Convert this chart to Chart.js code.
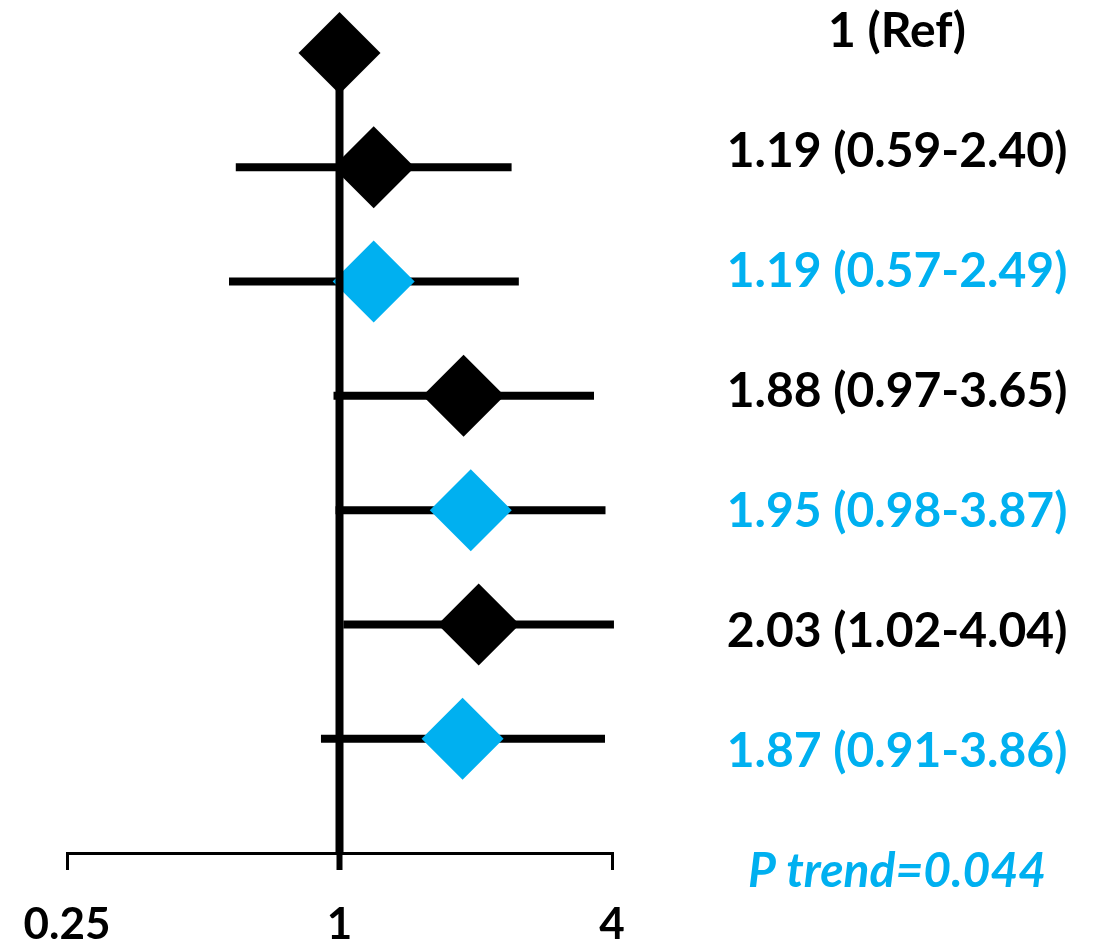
<!DOCTYPE html>
<html lang="en">
<head>
    <meta charset="UTF-8">
    <title>Forest plot</title>
    <script src="https://cdn.jsdelivr.net/npm/chart.js"></script>
    <style>
        body { margin: 0; background: #fff; }
        #wrap { width: 1097px; height: 943px; }
    </style>
</head>
<body>
    <div id="wrap"><canvas id="myChart"></canvas></div>
<script>
    // odds ratios and 95% CI per row (row 0 = reference)
    const estimates = [1, 1.19, 1.19, 1.88, 1.95, 2.03, 1.87];
    const lower = [null, 0.59, 0.57, 0.97, 0.98, 1.02, 0.91];
    const upper = [null, 2.40, 2.49, 3.65, 3.87, 4.04, 3.86];
    const labels = ['1 (Ref)', '1.19 (0.59-2.40)', '1.19 (0.57-2.49)', '1.88 (0.97-3.65)',
                    '1.95 (0.98-3.87)', '2.03 (1.02-4.04)', '1.87 (0.91-3.86)'];
    const trendLabel = 'P trend=0.044';
    const xTicks = [0.25, 1, 4];

    const BLACK = '#000000';
    const BLUE = '#00B0F0';
    const rowColors = [BLACK, BLACK, BLUE, BLACK, BLUE, BLACK, BLUE];

    // one line per confidence interval
    const ciSets = [];
    estimates.forEach((e, i) => {
        if (lower[i] == null) return;
        ciSets.push({
            type: 'line',
            data: [{ x: lower[i], y: i }, { x: upper[i], y: i }],
            borderColor: BLACK,
            borderWidth: 8,
            borderCapStyle: 'butt',
            pointRadius: 0,
            clip: false,
            order: 2
        });
    });

    const refLine = {
        id: 'refLine',
        afterDatasetsDraw(chart) {
            const { ctx, scales: { x, y }, chartArea } = chart;
            const px = x.getPixelForValue(1);
            ctx.save();
            ctx.strokeStyle = BLACK;
            ctx.lineWidth = 8;
            ctx.beginPath();
            ctx.moveTo(px, y.getPixelForValue(0));
            ctx.lineTo(px, chartArea.bottom);
            ctx.stroke();
            ctx.lineWidth = 6;
            ctx.beginPath();
            ctx.moveTo(px, chartArea.bottom);
            ctx.lineTo(px, chartArea.bottom + 17);
            ctx.stroke();
            ctx.restore();
        }
    };

    const rightText = {
        id: 'rightText',
        afterDraw(chart) {
            const ctx = chart.ctx;
            ctx.save();
            ctx.textAlign = 'center';
            ctx.textBaseline = 'alphabetic';
            ctx.font = 'bold 48px Lato';
            labels.forEach((t, i) => {
                ctx.fillStyle = rowColors[i];
                ctx.fillText(t, 897, 47 + i * 120);
            });
            ctx.font = 'italic bold 48px Lato';
            ctx.fillStyle = BLUE;
            ctx.fillText(trendLabel, 897, 47 + labels.length * 120);
            ctx.restore();
        }
    };

    new Chart(document.getElementById('myChart'), {
        type: 'scatter',
        data: {
            datasets: [{
                data: estimates.map((e, i) => ({ x: e, y: i })),
                pointStyle: 'rectRot',
                pointRadius: 41,
                pointHoverRadius: 41,
                pointBackgroundColor: rowColors,
                pointBorderWidth: 0,
                clip: false,
                order: 1
            }, ...ciSets]
        },
        options: {
            responsive: true,
            maintainAspectRatio: false,
            animation: false,
            events: [],
            layout: { padding: { left: 67, right: 485, top: 53, bottom: 0 } },
            plugins: { legend: { display: false }, tooltip: { enabled: false } },
            scales: {
                x: {
                    type: 'logarithmic',
                    min: 0.25,
                    max: 4,
                    afterBuildTicks: (scale) => { scale.ticks = xTicks.map(v => ({ value: v })); },
                    afterFit: (scale) => {
                        scale.height = 90;
                        scale.paddingLeft = 0;
                        scale.paddingRight = 0;
                    },
                    border: { color: BLACK, width: 3 },
                    grid: { drawOnChartArea: false, color: BLACK, lineWidth: 3, tickLength: 17 },
                    ticks: {
                        autoSkip: false,
                        maxRotation: 0,
                        color: BLACK,
                        padding: 28,
                        font: { family: 'Lato', weight: 'bold', size: 44 },
                        callback: (v) => String(v)
                    }
                },
                y: {
                    display: false,
                    min: 0,
                    max: 7,
                    reverse: true
                }
            }
        },
        plugins: [refLine, rightText]
    });
</script>
</body>
</html>
